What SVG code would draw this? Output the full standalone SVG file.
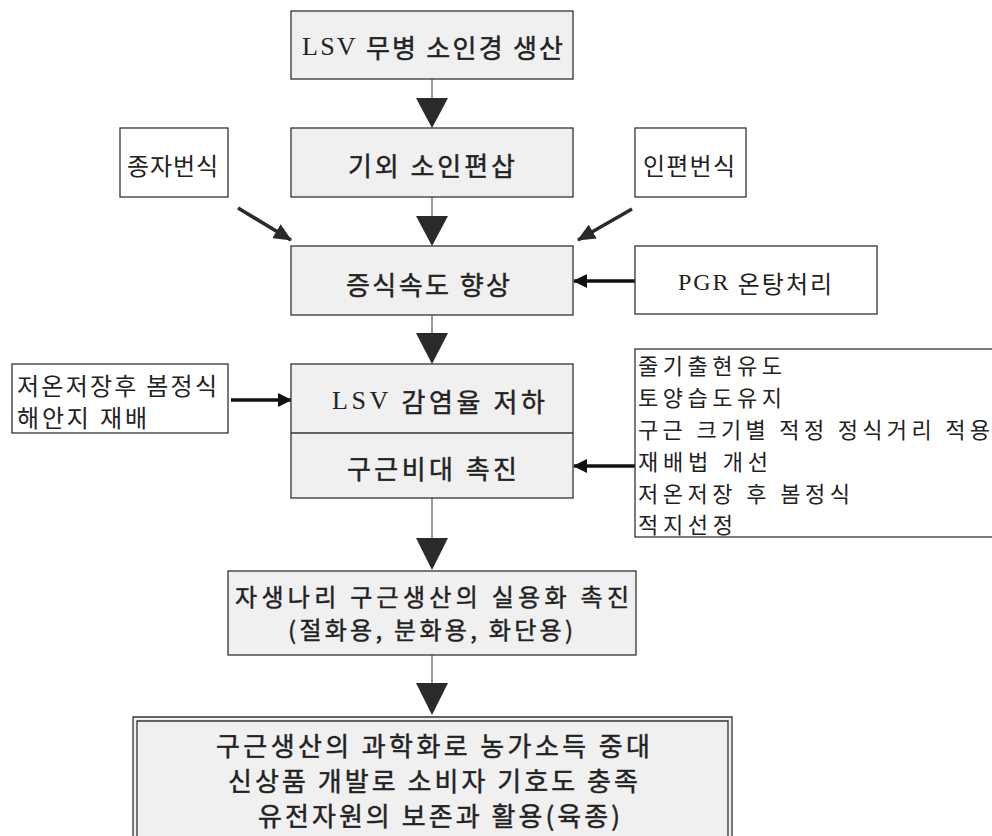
<svg xmlns="http://www.w3.org/2000/svg" width="992" height="836" viewBox="0 0 992 836">
<style>
.main{fill:#f0f0f0;stroke:#333;stroke-width:1.3}
.side{fill:#fff;stroke:#333;stroke-width:1.3}
.mt{font-family:"Noto Sans CJK KR","Noto Sans",sans-serif;font-size:26px;fill:#222;stroke:#222;stroke-width:0.45;text-anchor:start;dominant-baseline:central}
.st{font-family:"Noto Sans CJK KR","Noto Sans",sans-serif;font-size:24px;fill:#222;text-anchor:start;dominant-baseline:central}
.sm{font-size:22px}
.m2{font-size:24px}
.lt{font-family:"Liberation Serif","Noto Sans CJK KR",serif;stroke-width:0}
.vl{stroke:#555;stroke-width:1.2;fill:none}
.tri{fill:#2a2a2a}
.ha{stroke:#111;stroke-width:3.5;fill:none}
.da{stroke:#2a2a2a;stroke-width:3.5;fill:none}
</style>
<defs>
<marker id="ah" markerWidth="14" markerHeight="14" refX="13" refY="7" orient="auto" markerUnits="userSpaceOnUse" viewBox="0 0 14 14">
<path d="M0,0 L14,7 L0,14 Z" fill="#111"/>
</marker>
<marker id="ah2" markerWidth="18" markerHeight="16" refX="17" refY="8" orient="auto" markerUnits="userSpaceOnUse" viewBox="0 0 18 16">
<path d="M0,0 L18,8 L0,16 Z" fill="#2a2a2a"/>
</marker>
</defs>
<rect width="992" height="836" fill="#fff"/>

<g id="connectors">
<line class="vl" x1="432" y1="79" x2="432" y2="100"/>
<path class="tri" d="M416,98 L448,98 L432,128 Z"/>
<line class="vl" x1="432" y1="197" x2="432" y2="218"/>
<path class="tri" d="M416,216 L448,216 L432,246 Z"/>
<line class="vl" x1="432" y1="315" x2="432" y2="335"/>
<path class="tri" d="M416,333 L448,333 L432,364 Z"/>
<line class="vl" x1="432" y1="498" x2="432" y2="540"/>
<path class="tri" d="M416,538 L448,538 L432,570 Z"/>
<line class="vl" x1="432" y1="655" x2="432" y2="685"/>
<path class="tri" d="M416,683 L448,683 L432,715 Z"/>
<line class="da" x1="238" y1="208" x2="291" y2="240" marker-end="url(#ah2)"/>
<line class="da" x1="632" y1="209" x2="578" y2="240" marker-end="url(#ah2)"/>
<line class="ha" x1="635" y1="281" x2="574" y2="281" marker-end="url(#ah)"/>
<line class="ha" x1="231" y1="400" x2="291" y2="400" marker-end="url(#ah)"/>
<line class="ha" x1="635" y1="466" x2="574" y2="466" marker-end="url(#ah)"/>
</g>

<g id="n1">
<rect class="main" x="291" y="11" width="282" height="68"/>
<text class="mt" x="302" y="46" textLength="261"><tspan class="lt">LSV</tspan> 무병 소인경 생산</text>
</g>
<g id="n2">
<rect class="main" x="291" y="128" width="282" height="69"/>
<text class="mt" x="348" y="164" textLength="167">기외 소인편삽</text>
</g>
<g id="n3">
<rect class="main" x="291" y="246" width="282" height="69"/>
<text class="mt" x="346" y="283" textLength="164">증식속도 향상</text>
</g>
<g id="n4">
<rect class="main" x="291" y="364" width="282" height="134"/>
<line x1="291" y1="433" x2="573" y2="433" stroke="#333" stroke-width="1.3"/>
<text class="mt" x="332" y="400" textLength="213"><tspan class="lt">LSV</tspan> 감염율 저하</text>
<text class="mt" x="347" y="467" textLength="170">구근비대 촉진</text>
</g>
<g id="n5">
<rect class="main" x="228" y="571" width="408" height="84"/>
<text class="mt m2" x="235" y="595" textLength="394">자생나리 구근생산의 실용화 촉진</text>
<text class="mt m2" x="288" y="628" textLength="285">(절화용, 분화용, 화단용)</text>
</g>
<g id="n6">
<path d="M133,840 L133,717 L732,717 L732,840" fill="#f0f0f0" stroke="#333" stroke-width="1.3"/>
<path d="M137,840 L137,721 L728,721 L728,840" fill="none" stroke="#333" stroke-width="1.3"/>
<text class="mt" x="216" y="744" textLength="434">구근생산의 과학화로 농가소득 중대</text>
<text class="mt" x="228" y="779" textLength="410">신상품 개발로 소비자 기호도 충족</text>
<text class="mt" x="258" y="814" textLength="362">유전자원의 보존과 활용(육종)</text>
</g>

<g id="s1">
<rect class="side" x="120" y="128" width="108" height="69"/>
<text class="st" x="127" y="164" textLength="91">종자번식</text>
</g>
<g id="s2">
<rect class="side" x="635" y="128" width="111" height="69"/>
<text class="st" x="643" y="164" textLength="92">인편번식</text>
</g>
<g id="s3">
<rect class="side" x="635" y="246" width="242" height="68"/>
<text class="st" x="678" y="282" textLength="154"><tspan class="lt">PGR</tspan> 온탕처리</text>
</g>
<g id="s4">
<rect class="side" x="12" y="364" width="216" height="69"/>
<text class="st" x="17" y="384" textLength="200">저온저장후 봄정식</text>
<text class="st" x="17" y="416" textLength="130">해안지 재배</text>
</g>
<g id="s5">
<rect class="side" x="635" y="349" width="370" height="188"/>
<text class="st sm" x="638" y="364" textLength="144">줄기출현유도</text>
<text class="st sm" x="638" y="396" textLength="144">토양습도유지</text>
<text class="st sm" x="638" y="428" textLength="352">구근 크기별 적정 정식거리 적용</text>
<text class="st sm" x="638" y="460" textLength="130">재배법 개선</text>
<text class="st sm" x="638" y="492" textLength="212">저온저장 후 봄정식</text>
<text class="st sm" x="638" y="523" textLength="95">적지선정</text>
</g>
</svg>
